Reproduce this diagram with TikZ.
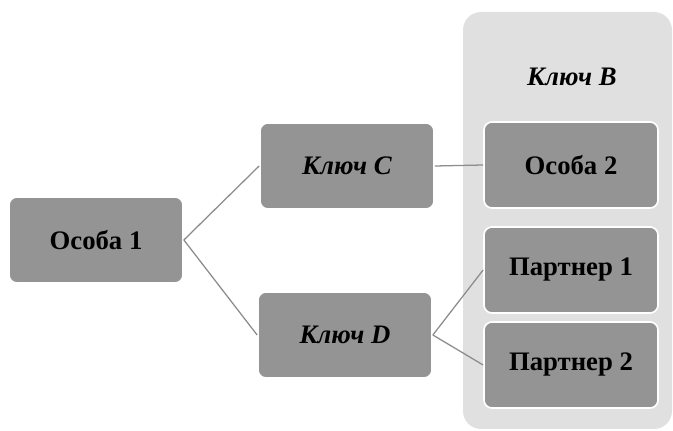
\documentclass[tikz,border=0pt]{standalone}
\usepackage{fontspec}
\setmainfont{Liberation Serif}
\usepackage{tikz}
\colorlet{boxfill}{black!42}
\colorlet{panelfill}{black!12}
\colorlet{linkcol}{black!45}
\tikzset{
  box/.style={draw=white, line width=1.2pt, fill=boxfill, rounded corners=0.2cm,
    minimum width=4.35cm, minimum height=2.15cm, font=\fontsize{19}{23}\selectfont\bfseries},
  link/.style={-, linkcol, line width=0.9pt}
}
\begin{document}
\begin{tikzpicture}[x=0.025cm,y=-0.025cm]
\useasboundingbox (0,0) rectangle (673,431);
\fill[panelfill, rounded corners=0.45cm] (463,12) rectangle (672,429);
\node[font=\fontsize{19}{23}\selectfont\bfseries\itshape] (B) at (572,77) {Ключ B};

\node[box] (p1) at (96,240) {Особа 1};
\node[box] (kC) at (347,166) {\itshape Ключ C};
\node[box] (kD) at (345,335) {\itshape Ключ D};
\node[box] (p2) at (571,165) {Особа 2};
\node[box] (t1) at (571,270) {Партнер 1};
\node[box] (t2) at (571,365) {Партнер 2};

\draw[link] (p1.east) -- (kC.west);
\draw[link] (p1.east) -- (kD.west);
\draw[link] (kC.east) -- (p2.west);
\draw[link] (kD.east) -- (t1.west);
\draw[link] (kD.east) -- (t2.west);
\end{tikzpicture}
\end{document}
